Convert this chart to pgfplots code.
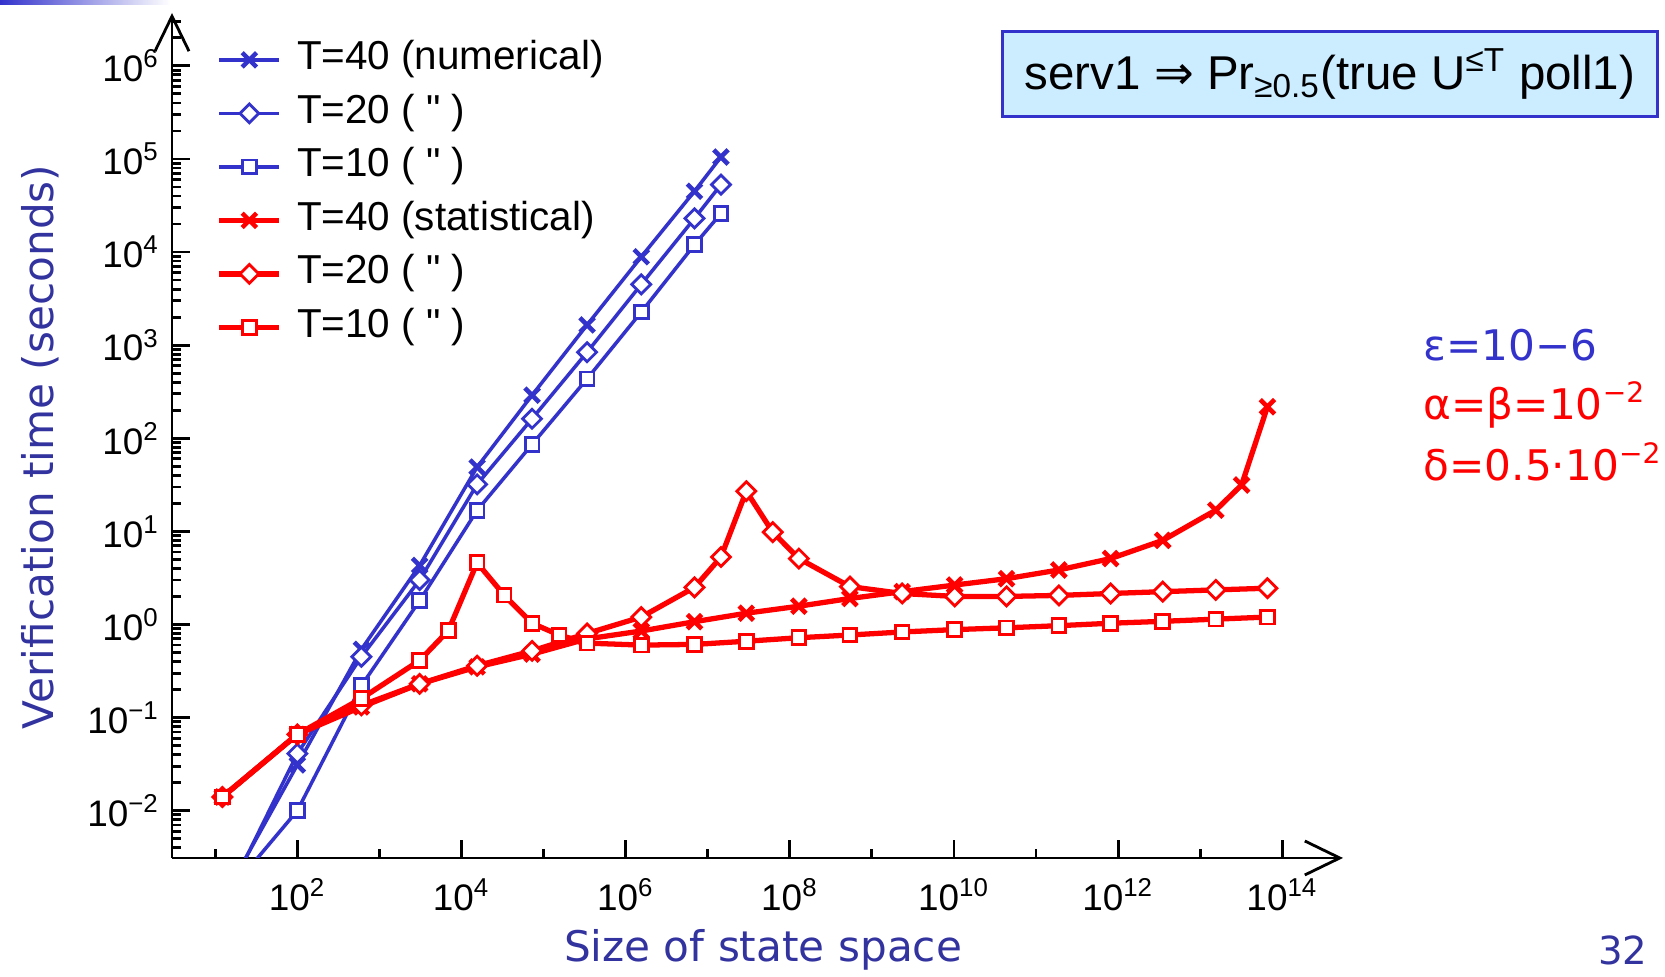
\documentclass[border=0pt]{standalone}
\usepackage{pgfplots}
\pgfplotsset{compat=1.18}
\usepackage{fontspec}
\setmainfont{Liberation Sans}
\newfontfamily\dejavu{DejaVu Sans}
\usetikzlibrary{arrows.meta}
\definecolor{numblue}{RGB}{51,51,204}
\definecolor{labblue}{RGB}{51,51,160}
\definecolor{boxfill}{RGB}{204,236,255}
\newcommand{\smallsup}[1]{\raisebox{0.75ex}{\fontsize{8}{8}\selectfont #1}}
\begin{document}
\begin{tikzpicture}
\useasboundingbox (0,0) rectangle (16.65,9.77);
\fill[white] (0,0) rectangle (16.65,9.77);
\shade[left color=numblue, right color=white] (0,9.72) rectangle (1.7,9.77);
\begin{axis}[
  at={(1.72cm,1.19cm)}, anchor=south west,
  scale only axis, width=11.71cm, height=8.45cm,
  xmode=log, ymode=log,
  xmin=2.97, xmax=5.5e14, ymin=3.1e-3, ymax=3.7e6,
  axis lines=left,
  axis line style={line width=0.8pt, -{Straight Barb[length=3.5mm,width=3.4mm]}},
  tick align=inside,
  tick style={black, line width=0.8pt},
  major tick length=0.18cm, minor tick length=0.09cm,
  xtick={1e2,1e4,1e6,1e8,1e10,1e12,1e14},
  xticklabels={10\textsuperscript{2},10\textsuperscript{4},10\textsuperscript{6},10\textsuperscript{8},10\textsuperscript{10},10\textsuperscript{12},10\textsuperscript{14}},
  minor xtick={1e1,1e3,1e5,1e7,1e9,1e11,1e13},
  ytick={1e-2,1e-1,1,10,100,1e3,1e4,1e5,1e6},
  yticklabels={10\textsuperscript{−2},10\textsuperscript{−1},10\textsuperscript{0},10\textsuperscript{1},10\textsuperscript{2},10\textsuperscript{3},10\textsuperscript{4},10\textsuperscript{5},10\textsuperscript{6}},
  minor ytick={4e-3,5e-3,6e-3,7e-3,8e-3,9e-3,2e-2,3e-2,4e-2,5e-2,6e-2,7e-2,8e-2,9e-2,0.2,0.3,0.4,0.5,0.6,0.7,0.8,0.9,2,3,4,5,6,7,8,9,20,30,40,50,60,70,80,90,200,300,400,500,600,700,800,900,2000,3000,4000,5000,6000,7000,8000,9000,2e4,3e4,4e4,5e4,6e4,7e4,8e4,9e4,2e5,3e5,4e5,5e5,6e5,7e5,8e5,9e5,2e6,3e6},
  ticklabel style={font=\fontsize{10.5}{12}\selectfont},
  xticklabel style={yshift=-0.08cm},
  legend style={at={(0.0376,0.969)}, anchor=north west, draw=none, fill=none,
    inner sep=0pt, row sep=0.135cm, column sep=0.15cm,
    font=\fontsize{11.5}{13}\selectfont,
    nodes={inner sep=0pt, text height=0.3cm, text depth=0.1cm}},
  legend cell align=left,
  num/.style={numblue, line width=1pt},
  sta/.style={red, line width=1.5pt},
  mx/.style={mark=x, mark size=2.9pt, mark options={line width=1.3pt, solid}},
  md/.style={mark=square*, mark size=1.9pt, mark options={rotate=45, fill=white, line width=0.8pt, solid}},
  ms/.style={mark=square*, mark size=1.95pt, mark options={fill=white, line width=0.8pt, solid}},
]
% numerical
\addplot[num, mx] coordinates {(12.2,0.0011) (100,0.031) (603,0.54) (3090,4.3) (15500,49) (72400,290) (339000,1650) (1.55e6,8900) (6.9e6,45000) (1.45e7,105000)};
\addlegendentry{T=40 (numerical)}
\addplot[num, md] coordinates {(12.2,0.00095) (100,0.041) (603,0.45) (3090,3.0) (15500,32) (72400,162) (339000,840) (1.55e6,4500) (6.9e6,23000) (1.45e7,53000)};
\addlegendentry{T=20 ( \textquotedbl{} )}
\addplot[num, ms] coordinates {(12.2,0.0011) (100,0.01) (603,0.22) (3090,1.8) (15500,16.8) (72400,86) (339000,435) (1.55e6,2270) (6.9e6,12000) (1.45e7,26000)};
\addlegendentry{T=10 ( \textquotedbl{} )}
% statistical
\addplot[sta, mx] coordinates {(12.2,0.014) (100,0.066) (603,0.13) (3090,0.23) (15500,0.35) (72400,0.48) (339000,0.70) (1.55e6,0.85) (6.9e6,1.07) (2.95e7,1.32) (1.29e8,1.57) (5.4e8,1.9) (2.34e9,2.25) (1.02e10,2.65) (4.37e10,3.1) (1.9e11,3.85) (8.1e11,5.1) (3.5e12,8.0) (1.55e13,16.9) (3.2e13,31.5) (6.6e13,218)};
\addlegendentry{T=40 (statistical)}
\addplot[sta, md] coordinates {(12.2,0.014) (100,0.066) (603,0.135) (3090,0.23) (15500,0.36) (72400,0.52) (339000,0.80) (1.55e6,1.2) (6.9e6,2.5) (1.45e7,5.3) (2.95e7,27) (6.2e7,9.8) (1.29e8,5.1) (5.4e8,2.55) (2.34e9,2.15) (1.02e10,2.0) (4.37e10,2.0) (1.9e11,2.05) (8.1e11,2.15) (3.5e12,2.25) (1.55e13,2.35) (6.6e13,2.45)};
\addlegendentry{T=20 ( \textquotedbl{} )}
\addplot[sta, ms] coordinates {(12.2,0.014) (100,0.066) (603,0.16) (3090,0.41) (6920,0.86) (15500,4.6) (33100,2.06) (72400,1.03) (155000,0.77) (339000,0.63) (1.55e6,0.60) (6.9e6,0.61) (2.95e7,0.66) (1.29e8,0.72) (5.4e8,0.77) (2.34e9,0.83) (1.02e10,0.88) (4.37e10,0.92) (1.9e11,0.97) (8.1e11,1.03) (3.5e12,1.08) (1.55e13,1.14) (6.6e13,1.2)};
\addlegendentry{T=10 ( \textquotedbl{} )}
\end{axis}
\node[rotate=90, font=\dejavu\fontsize{12}{14}\selectfont, text=labblue] at (0.40,5.30) {Verification time (seconds)};
\node[font=\dejavu\fontsize{12}{14}\selectfont, text=labblue] at (7.63,0.27) {Size of state space};
\node[anchor=east, font=\dejavu\fontsize{11}{13}\selectfont, text=labblue] at (16.6,0.27) {32};
\node[draw=numblue, line width=1pt, fill=boxfill, minimum width=6.55cm, minimum height=0.85cm,
  font=\fontsize{13.5}{15}\selectfont] at (13.30,9.03)
  {serv1 {\dejavu ⇒} Pr\textsubscript{≥0.5}(true U\textsuperscript{≤T} poll1)};
\node[anchor=west, inner sep=0pt, font=\dejavu\fontsize{12}{14}\selectfont, text=numblue] at (14.23,6.32) {ε=10−6};
\node[anchor=west, inner sep=0pt, font=\dejavu\fontsize{12}{14}\selectfont, text=red] at (14.23,5.72) {α=β=10\smallsup{−2}};
\node[anchor=west, inner sep=0pt, font=\dejavu\fontsize{12}{14}\selectfont, text=red] at (14.23,5.15) {δ=0.5·10\smallsup{−2}};
\end{tikzpicture}
\end{document}
